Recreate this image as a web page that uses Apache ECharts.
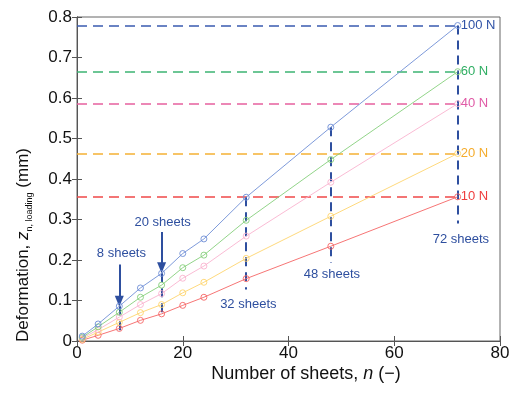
<!DOCTYPE html>
<html>
<head>
<meta charset="utf-8">
<script src="https://cdn.jsdelivr.net/npm/echarts@6/dist/echarts.min.js"></script>
<style>html,body{margin:0;padding:0;background:#fff}#c{width:516px;height:395px}</style>
</head>
<body>
<div id="c"></div>
<script>
// ---- data ----
var sheets = [1, 4, 8, 12, 16, 20, 24, 32, 48, 72];
var load100 = [0.012, 0.042, 0.086, 0.131, 0.167, 0.216, 0.252, 0.355, 0.528, 0.779];
var load60  = [0.009, 0.035, 0.071, 0.108, 0.138, 0.181, 0.212, 0.298, 0.448, 0.665];
var load40  = [0.007, 0.028, 0.059, 0.090, 0.117, 0.155, 0.185, 0.259, 0.392, 0.586];
var load20  = [0.004, 0.022, 0.046, 0.070, 0.090, 0.119, 0.145, 0.204, 0.308, 0.463];
var load10  = [0.002, 0.014, 0.031, 0.051, 0.067, 0.088, 0.108, 0.154, 0.234, 0.356];
var loadNames = ['100 N', '60 N', '40 N', '20 N', '10 N'];
var xTicks = [0, 20, 40, 60, 80];
var yTicks = [0, 0.1, 0.2, 0.3, 0.4, 0.5, 0.6, 0.7, 0.8];
// vertical dashed markers: [n, top, bottom]
var vMarkN = [8, 16, 32, 48, 72];
var vMarkTop = [0.086, 0.167, 0.355, 0.528, 0.779];
var vMarkBottom = [0.025, 0.061, 0.127, 0.193, 0.29];
// arrows: [n, start, end]
var arrowN = [8, 16];
var arrowFrom = [0.189, 0.269];
var arrowTo = [0.098, 0.181];
// sheet labels
var sheetLabels = ['8 sheets', '20 sheets', '32 sheets', '48 sheets', '72 sheets'];
var sheetLabelX = [8.4, 16.2, 32.4, 48.2, 72.6];
var sheetLabelY = [0.216, 0.293, 0.09, 0.164, 0.25];

var lineColors = ['#6f8fd6', '#86cf7c', '#f9b3cf', '#fed56e', '#f56565'];
var dashColors = ['#3a5bb0', '#3cb473', '#e6609f', '#f5b135', '#f04848'];
var textColors = ['#2f52a6', '#2fae63', '#e05aa6', '#f5ac2c', '#ef3d3d'];
var annColor = '#2e4f9f';
var allSeries = [load100, load60, load40, load20, load10];

var font = "'Liberation Sans', Arial, sans-serif";
var chart = echarts.init(document.getElementById('c'), null, {renderer: 'canvas'});

var series = [];
allSeries.forEach(function (vals, i) {
  var endVal = vals[vals.length - 1];
  var endN = sheets[sheets.length - 1];
  series.push({
    name: loadNames[i],
    type: 'line',
    data: sheets.map(function (n, k) { return [n, vals[k]]; }),
    symbol: 'circle',
    symbolSize: 6,
    z: 10 - i,
    lineStyle: {color: lineColors[i], width: 0.9},
    itemStyle: {color: 'rgba(255,255,255,0)', borderColor: lineColors[i], borderWidth: 0.9},
    emphasis: {disabled: true},
    markLine: {
      silent: true, symbol: ['none', 'none'], animation: false,
      lineStyle: {color: dashColors[i], type: [10, 6], width: 1.6},
      label: {show: false},
      data: [[{coord: [0, endVal]}, {coord: [endN, endVal]}]]
    },
    markPoint: {
      silent: true, symbol: 'circle', symbolSize: 0, animation: false,
      data: [{coord: [endN, endVal], label: {show: true, formatter: loadNames[i], position: 'right', distance: 3,
        color: textColors[i], fontSize: 13, fontFamily: font}}]
    }
  });
});

// annotation series (vertical dashed lines, arrows, labels)
var vLines = vMarkN.map(function (n, k) {
  return [{coord: [n, vMarkTop[k]]}, {coord: [n, vMarkBottom[k]]}];
});
var arrows = arrowN.map(function (n, k) {
  return [{coord: [n, arrowFrom[k]], symbol: 'none'}, {coord: [n, arrowTo[k]], symbol: 'triangle', symbolSize: [9, 11],
    lineStyle: {type: 'solid', width: 2, color: annColor}}];
});
series.push({
  name: 'annotations',
  type: 'line',
  data: [],
  z: 3,
  markLine: {
    silent: true, animation: false, symbol: ['none', 'none'],
    lineStyle: {color: annColor, type: [9, 6], width: 2},
    label: {show: false},
    data: vLines.concat(arrows)
  },
  markPoint: {
    silent: true, animation: false, symbol: 'circle', symbolSize: 0,
    data: sheetLabels.map(function (t, k) {
      return {coord: [sheetLabelX[k], sheetLabelY[k]], label: {show: true, formatter: t, position: 'inside',
        color: annColor, fontSize: 13, fontFamily: font}};
    })
  }
});

var axisLineStyle = {color: '#555', width: 1};
var option = {
  animation: false,
  backgroundColor: '#fff',
  textStyle: {fontFamily: font},
  grid: {left: 77, right: 16, top: 17, bottom: 54, show: true, borderColor: '#666', borderWidth: 1},
  xAxis: [{
    type: 'value', min: xTicks[0], max: xTicks[xTicks.length - 1], interval: 20,
    axisLine: {show: true, lineStyle: axisLineStyle},
    axisTick: {show: true, inside: true, length: 5, lineStyle: axisLineStyle},
    axisLabel: {color: '#111', fontSize: 17, margin: 4, fontFamily: font},
    splitLine: {show: false}
  }, {
    type: 'value', position: 'top', min: xTicks[0], max: xTicks[xTicks.length - 1], interval: 20,
    axisLine: {show: true, lineStyle: axisLineStyle},
    axisTick: {show: true, inside: true, length: 5, lineStyle: axisLineStyle},
    axisLabel: {show: false}, splitLine: {show: false}
  }],
  yAxis: [{
    type: 'value', min: yTicks[0], max: yTicks[yTicks.length - 1], interval: 0.1,
    axisLine: {show: true, lineStyle: axisLineStyle},
    axisTick: {show: true, inside: true, length: 5, lineStyle: axisLineStyle},
    axisLabel: {color: '#111', fontSize: 17, margin: 5, fontFamily: font,
      formatter: function (v) { return v === 0 ? '0' : v.toFixed(1); }},
    splitLine: {show: false}
  }, {
    type: 'value', position: 'right', min: yTicks[0], max: yTicks[yTicks.length - 1], interval: 0.1,
    axisLine: {show: true, lineStyle: axisLineStyle},
    axisTick: {show: true, inside: true, length: 5, lineStyle: axisLineStyle},
    axisLabel: {show: false}, splitLine: {show: false}
  }],
  series: series,
  graphic: [{
    type: 'text', x: 306, y: 374,
    style: {
      text: 'Number of sheets, {i|n} (−)',
      fill: '#111', font: '18px ' + font, align: 'center', verticalAlign: 'middle',
      rich: {i: {fontStyle: 'italic', fontSize: 18, fontFamily: font, fill: '#111'}}
    }
  }, {
    type: 'text', x: 23, y: 245, rotation: Math.PI / 2,
    style: {
      text: 'Deformation, {i|z}{s|n, loading} (mm)',
      fill: '#111', font: '17px ' + font, align: 'center', verticalAlign: 'middle',
      rich: {
        i: {fontStyle: 'italic', fontSize: 17, fontFamily: font, fill: '#111', lineHeight: 22},
        s: {fontSize: 9, fontFamily: font, fill: '#111', verticalAlign: 'bottom', lineHeight: 22}
      }
    }
  }]
};
chart.setOption(option);
</script>
</body>
</html>
